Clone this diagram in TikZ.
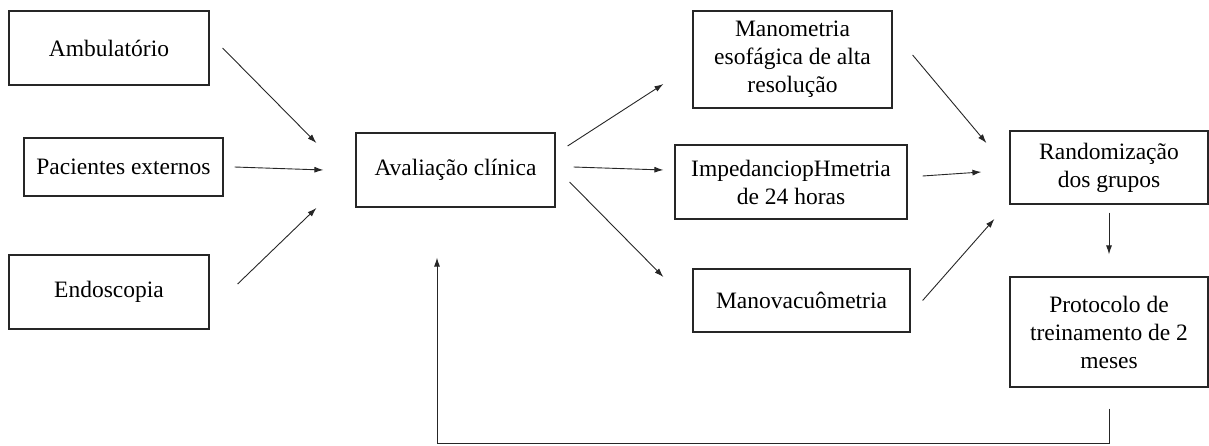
\documentclass[tikz,border=0pt]{standalone}
\usepackage{fontspec}
\setmainfont{Liberation Serif}
\newfontfamily\boxfont{Liberation Serif}
\usetikzlibrary{arrows.meta, calc}
\tikzset{
>={Latex[length=9pt,width=6pt]}, % small filled arrow heads
block/.style={draw=black!85, line width=1.2pt, inner sep=0pt, align=center, minimum width=199pt, minimum height=74pt, font=\boxfont\fontsize{23.5}{28}\selectfont}, % sets the properties for each box
link/.style={->, line width=0.9pt, black!85}, % the connectors
}

\begin{document}
\begin{tikzpicture}[x=1pt, y=-1pt]
      \useasboundingbox (0,0) rectangle (1209,445);

      \node[block, minimum width=200pt] (ambul) at (109,48) {Ambulatório};
      \node[block, minimum height=58pt] (pac) at (123.5,167) {Pacientes externos};
      \node[block, minimum width=200pt] (endo) at (109,292) {Endoscopia};
      \node[block] (aval) at (455.5,170) {Avaliação clínica};
      \node[block, minimum height=97pt] (mano) at (792.5,59.5) {Manometria\\esofágica de alta\\resolução};
      \node[block, minimum width=232pt] (imped) at (791,182) {ImpedanciopHmetria\\de 24 horas};
      \node[block, minimum width=217pt, minimum height=63pt] (manovac) at (801.5,300.5) {Manovacuômetria};
      \node[block, minimum width=198pt, minimum height=73pt] (rand) at (1109,167.5) {Randomização\\dos grupos};
      \node[block, minimum width=198pt, minimum height=110pt] (prot) at (1109,332) {Protocolo de\\treinamento de 2\\meses};
      \coordinate (loop) at (437,443);

      \draw[link] ($(ambul.east)+(13,0)$) -- ($(aval.west)+(-39,-27)$);
      \draw[link] ($(pac.east)+(11,0)$) -- ($(aval.west)+(-32,0)$);
      \draw[link] ($(endo.east)+(28,-8)$) -- ($(aval.west)+(-39,38)$);
      \draw[link] ($(aval.east)+(12,-24)$) -- ($(mano.west)+(-29,24.5)$);
      \draw[link] ($(aval.east)+(18,-3)$) -- ($(imped.west)+(-11,-12)$);
      \draw[link] ($(aval.east)+(14,12)$) -- ($(manovac.west)+(-29,-23.5)$);
      \draw[link] ($(mano.east)+(20,-4.5)$) -- ($(rand.west)+(-23,-24.5)$);
      \draw[link] ($(imped.east)+(15,-6)$) -- ($(rand.west)+(-28,4.5)$);
      \draw[link] ($(manovac.east)+(12,0)$) -- ($(rand.west)+(-15,51.5)$);
      \draw[link] ($(rand.south)+(0,8)$) -- ($(prot.north)+(0,-22)$);
      \draw[link] ($(prot.south)+(0,21)$) |- (loop) -- ($(aval.south)+(-18.5,50)$);
    \end{tikzpicture}
\end{document}
